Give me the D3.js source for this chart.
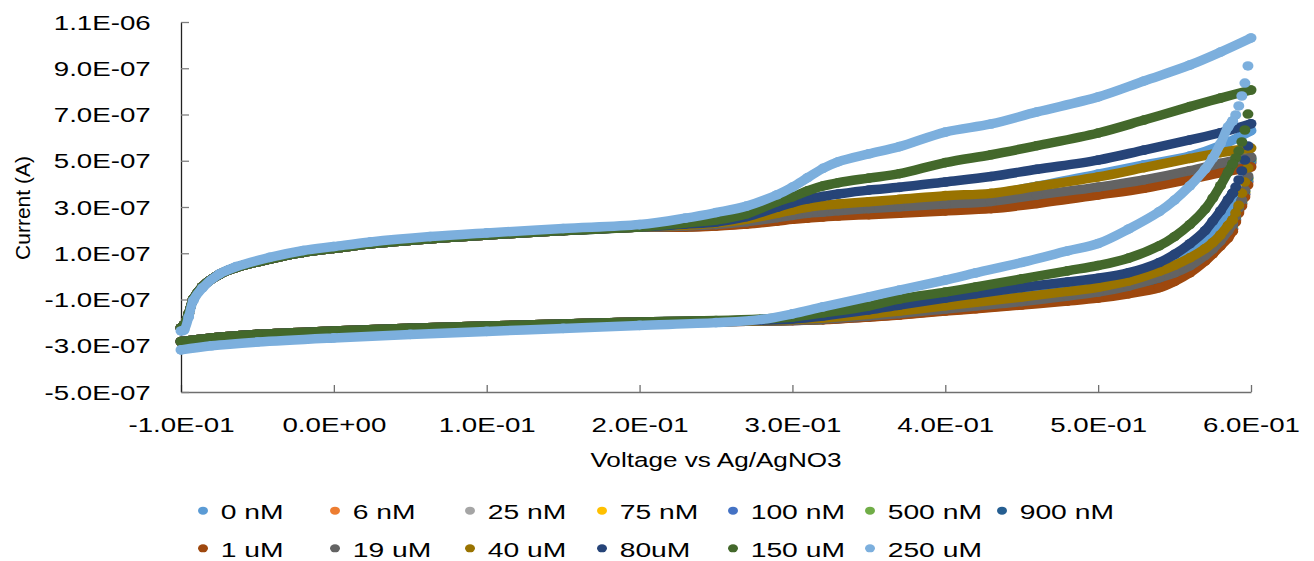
<!DOCTYPE html>
<html><head><meta charset="utf-8">
<script src="https://cdn.jsdelivr.net/npm/d3@7/dist/d3.min.js"></script>
<style>
html,body{margin:0;padding:0;background:#fff;}
svg{display:block;}
text{font-family:"Liberation Sans",Arial,sans-serif;fill:#000;}
</style></head><body>
<svg id="chart" width="1314" height="561"></svg>
<script>
// ---------- DATA (voltage in V, current in units of 1e-7 A) ----------
const seriesNames  = ["0 nM","6 nM","25 nM","75 nM","100 nM","500 nM","900 nM",
                      "1 uM","19 uM","40 uM","80uM","150 uM","250 uM"];
const seriesColors = ["#5B9BD5","#ED7D31","#A5A5A5","#FFC000","#4472C4","#70AD47","#255E91",
                      "#9E480E","#636363","#997300","#264478","#43682B","#7CAFDD"];

const xTickValues = [-0.1,0,0.1,0.2,0.3,0.4,0.5,0.6];
const xTickLabels = ["-1.0E-01","0.0E+00","1.0E-01","2.0E-01","3.0E-01","4.0E-01","5.0E-01","6.0E-01"];
const yTickValues = [-5,-3,-1,1,3,5,7,9,11];
const yTickLabels = ["-5.0E-07","-3.0E-07","-1.0E-07","1.0E-07","3.0E-07","5.0E-07","7.0E-07","9.0E-07","1.1E-06"];

// forward sweep, start (all series except 250 uM nearly identical)
const fwdHeadV    = [-0.1,-0.098,-0.095,-0.092,-0.086,-0.075,-0.064,-0.042,-0.02,0.0,0.024,0.063,0.1,0.15,0.2];
const fwdHeadLow  = [-2.23,-2.10,-1.62,-0.98,-0.44,0.08,0.38,0.75,1.04,1.21,1.41,1.63,1.79,1.98,2.13];
const fwdHead250  = [-2.36,-2.32,-1.76,-1.05,-0.50,0.10,0.42,0.82,1.12,1.29,1.49,1.72,1.88,2.07,2.24];

// forward sweep, end (per series)
const fwdTailV = [0.23,0.25,0.27,0.29,0.3,0.31,0.32,0.33,0.35,0.37,0.4,0.43,0.46,0.5,0.53,0.56,0.58,0.6];
const fwdTail = [
  [2.20,2.28,2.42,2.66,2.78,2.90,2.98,3.04,3.15,3.25,3.42,3.56,3.90,4.42,4.82,5.20,5.65,6.30], // 0 nM
  [2.14,2.19,2.28,2.42,2.50,2.56,2.61,2.66,2.73,2.80,2.90,3.01,3.25,3.62,3.94,4.33,4.62,4.88], // 6 nM
  [2.15,2.20,2.30,2.45,2.54,2.61,2.66,2.71,2.78,2.85,2.96,3.07,3.32,3.68,4.00,4.40,4.70,4.96], // 25 nM
  [2.16,2.21,2.31,2.47,2.56,2.63,2.69,2.74,2.82,2.89,3.00,3.11,3.38,3.73,4.05,4.45,4.76,5.02], // 75 nM
  [2.14,2.20,2.29,2.44,2.52,2.59,2.64,2.69,2.76,2.83,2.94,3.05,3.30,3.66,3.98,4.38,4.68,4.95], // 100 nM
  [2.15,2.21,2.32,2.48,2.57,2.65,2.71,2.76,2.84,2.91,3.03,3.14,3.42,3.76,4.08,4.48,4.80,5.06], // 500 nM
  [2.16,2.22,2.33,2.50,2.59,2.67,2.73,2.79,2.87,2.95,3.07,3.18,3.46,3.80,4.12,4.52,4.84,5.10], // 900 nM
  [2.13,2.18,2.26,2.39,2.47,2.52,2.57,2.61,2.67,2.73,2.83,2.93,3.15,3.52,3.81,4.20,4.48,4.73], // 1 uM
  [2.18,2.24,2.36,2.54,2.64,2.73,2.78,2.84,2.93,3.01,3.13,3.24,3.52,3.86,4.17,4.57,4.89,5.16], // 19 uM
  [2.22,2.31,2.47,2.73,2.87,2.99,3.07,3.13,3.23,3.33,3.49,3.59,3.89,4.30,4.70,5.10,5.35,5.55], // 40 uM
  [2.26,2.35,2.58,2.99,3.19,3.35,3.46,3.56,3.73,3.85,4.08,4.32,4.63,5.03,5.46,5.90,6.21,6.60], // 80uM
  [2.31,2.44,2.70,3.23,3.44,3.70,3.91,4.05,4.25,4.44,4.92,5.26,5.65,6.20,6.76,7.34,7.71,8.06], // 150 uM
  [2.52,2.76,3.04,3.53,3.86,4.27,4.67,4.96,5.30,5.61,6.24,6.59,7.11,7.76,8.45,9.14,9.70,10.31] // 250 uM
];

// reverse sweep, first (sparse) points near the vertex
const revDotV = [0.598,0.596,0.594,0.592,0.590,0.588];
const revDots = [
  [5.30,4.65,4.15,3.72,3.38,3.10], // 0 nM
  [4.05,3.52,3.12,2.80,2.42,2.04], // 6 nM
  [4.12,3.58,3.17,2.85,2.48,2.10], // 25 nM
  [4.20,3.63,3.22,2.89,2.53,2.16], // 75 nM
  [4.10,3.55,3.15,2.83,2.45,2.07], // 100 nM
  [4.24,3.66,3.25,2.91,2.56,2.19], // 500 nM
  [4.28,3.69,3.27,2.93,2.58,2.22], // 900 nM
  [3.95,3.43,3.04,2.74,2.35,1.96], // 1 uM
  [4.34,3.73,3.30,2.96,2.61,2.26], // 19 uM
  [4.69,4.08,3.60,3.07,2.75,2.44], // 40 uM
  [5.64,5.03,4.56,4.17,3.86,3.60], // 80uM
  [7.02,6.33,5.81,5.42,5.12,4.86], // 150 uM
  [9.10,8.36,7.80,7.37,6.98,6.72]  // 250 uM
];

// reverse sweep, body (per series)
const revBodyV = [0.585,0.58,0.575,0.57,0.56,0.55,0.54,0.52,0.5,0.48,0.45,0.42,0.4,0.37,0.35,0.32,0.3,0.28,0.25];
const revBody = [
  [2.85,2.40,2.00,1.65,1.12,0.70,0.32,-0.12,-0.40,-0.58,-0.84,-1.08,-1.23,-1.47,-1.62,-1.79,-1.86,-1.90,-1.94], // 0 nM
  [1.72,1.36,1.02,0.71,0.21,-0.15,-0.41,-0.68,-0.89,-1.03,-1.21,-1.38,-1.48,-1.66,-1.75,-1.87,-1.91,-1.93,-1.96], // 6 nM
  [1.78,1.41,1.06,0.76,0.28,-0.07,-0.32,-0.61,-0.83,-0.98,-1.18,-1.35,-1.46,-1.65,-1.74,-1.86,-1.91,-1.93,-1.96], // 25 nM
  [1.84,1.45,1.10,0.81,0.34,0.01,-0.22,-0.54,-0.78,-0.94,-1.15,-1.33,-1.45,-1.64,-1.73,-1.86,-1.90,-1.93,-1.95], // 75 nM
  [1.75,1.39,1.04,0.73,0.24,-0.11,-0.37,-0.65,-0.86,-1.01,-1.20,-1.37,-1.47,-1.65,-1.75,-1.87,-1.91,-1.93,-1.96], // 100 nM
  [1.88,1.48,1.13,0.84,0.38,0.06,-0.16,-0.50,-0.75,-0.91,-1.13,-1.31,-1.44,-1.63,-1.72,-1.85,-1.90,-1.93,-1.95], // 500 nM
  [1.91,1.50,1.15,0.87,0.41,0.10,-0.11,-0.46,-0.72,-0.88,-1.11,-1.30,-1.43,-1.62,-1.72,-1.85,-1.90,-1.93,-1.95], // 900 nM
  [1.66,1.31,0.97,0.66,0.15,-0.22,-0.49,-0.75,-0.94,-1.07,-1.24,-1.40,-1.50,-1.67,-1.76,-1.87,-1.91,-1.93,-1.96], // 1 uM
  [1.96,1.53,1.18,0.90,0.45,0.15,-0.06,-0.42,-0.68,-0.85,-1.09,-1.28,-1.41,-1.61,-1.71,-1.85,-1.90,-1.93,-1.95], // 19 uM
  [2.20,1.79,1.46,1.20,0.80,0.48,0.22,-0.20,-0.47,-0.65,-0.89,-1.12,-1.27,-1.50,-1.64,-1.80,-1.87,-1.91,-1.94], // 40 uM
  [3.32,2.83,2.39,1.98,1.41,0.95,0.60,0.16,-0.08,-0.24,-0.48,-0.75,-0.94,-1.24,-1.45,-1.71,-1.84,-1.89,-1.93], // 80uM
  [4.51,3.92,3.38,2.91,2.24,1.72,1.32,0.79,0.47,0.24,-0.11,-0.46,-0.68,-0.98,-1.28,-1.58,-1.76,-1.84,-1.91], // 150 uM
  [6.46,5.73,5.12,4.64,3.91,3.30,2.80,2.05,1.42,1.10,0.60,0.15,-0.16,-0.59,-0.89,-1.32,-1.62,-1.86,-2.00]  // 250 uM
];

// reverse sweep, end (all series except 250 uM nearly identical)
const revTailV   = [0.2,0.15,0.1,0.05,0.0,-0.05,-0.08,-0.1];
const revTailLow = [-1.97,-2.06,-2.15,-2.24,-2.36,-2.51,-2.66,-2.82];
const revTail250 = [-2.12,-2.25,-2.38,-2.51,-2.66,-2.84,-3.00,-3.18];

// ---------- CHART ----------
const svg = d3.select("#chart");
const x = d3.scaleLinear().domain([-0.1,0.6]).range([181,1251]);
const y = d3.scaleLinear().domain([-5,11]).range([392,22]);
const SX_TICK = 1.42, SX_LEG = 1.45, SX_XT = 1.34;

// axes
const gx = svg.append("g").attr("transform","translate(0,392)")
  .call(d3.axisBottom(x).tickValues(xTickValues).tickFormat((d,i)=>xTickLabels[i])
        .tickSizeInner(-7).tickSizeOuter(0));
gx.select(".domain").attr("stroke","#6f6f6f").attr("stroke-width",1.3);
gx.selectAll(".tick line").attr("stroke","#6f6f6f").attr("stroke-width",1.3);
gx.selectAll(".tick text").attr("y",40.3).attr("dy",null)
  .attr("transform",`scale(${SX_TICK},1)`)
  .style("font-family",'"Liberation Sans",Arial,sans-serif').style("font-size","19.5px").attr("fill","#000");

const gy = svg.append("g").attr("transform","translate(181,0)")
  .call(d3.axisLeft(y).tickValues(yTickValues).tickFormat((d,i)=>yTickLabels[i])
        .tickSizeInner(-8).tickSizeOuter(0).tickPadding(30.3));
gy.select(".domain").attr("stroke","#222").attr("stroke-width",1.3);
gy.selectAll(".tick line").attr("stroke","#7f7f7f").attr("stroke-width",1.3);
gy.selectAll(".tick text").attr("x",-30.3/SX_TICK).attr("dy","0.36em")
  .attr("transform",`scale(${SX_TICK},1)`)
  .style("font-family",'"Liberation Sans",Arial,sans-serif').style("font-size","19.5px").attr("fill","#000");

// axis titles
svg.append("text").attr("transform","translate(22,208) rotate(-90)")
  .attr("text-anchor","middle").attr("dy","0.36em").style("font-size","21px").text("Current (A)");
svg.append("text").attr("transform",`translate(716,467) scale(${SX_XT},1)`)
  .attr("text-anchor","middle").style("font-size","19.5px").text("Voltage vs Ag/AgNO3");

// series
const line = d3.line().x(d=>x(d[0])).y(d=>y(d[1])).curve(d3.curveCatmullRom.alpha(0.5));
const plot = svg.append("g");
seriesNames.forEach((name,i)=>{
  const head = i===12 ? fwdHead250 : fwdHeadLow;
  const tail = i===12 ? revTail250 : revTailLow;
  const fwd = fwdHeadV.map((v,k)=>[v,head[k]]).concat(fwdTailV.map((v,k)=>[v,fwdTail[i][k]]));
  const dots = revDotV.map((v,k)=>[v,revDots[i][k]]);
  const rev = [dots[dots.length-1]].concat(revBodyV.map((v,k)=>[v,revBody[i][k]]),
                                           revTailV.map((v,k)=>[v,tail[k]]));
  const g = plot.append("g").attr("fill",seriesColors[i]).attr("stroke",seriesColors[i]);
  [fwd,rev].forEach(pts=>{
    g.append("path").datum(pts).attr("d",line).attr("fill","none")
      .attr("stroke-width",9.5).attr("stroke-linecap","round").attr("stroke-linejoin","round");
  });
  g.selectAll("ellipse").data(fwd.concat(dots,rev)).join("ellipse")
    .attr("cx",d=>x(d[0])).attr("cy",d=>y(d[1])).attr("rx",5.5).attr("ry",4.8).attr("stroke","none");
});

// legend
const legColX = [203,335,470,602,733,870,1002];
const legRowY = [510.7,548.3];
const leg = svg.append("g");
seriesNames.forEach((name,i)=>{
  const row = i<7 ? 0 : 1, col = i<7 ? i : i-7;
  const cx = legColX[col], cy = legRowY[row];
  leg.append("ellipse").attr("cx",cx).attr("cy",cy).attr("rx",5).attr("ry",4).attr("fill",seriesColors[i]);
  leg.append("text").attr("transform",`translate(${cx+17.7},${cy+8.2}) scale(${SX_LEG},1)`)
    .style("font-size","19.5px").text(name);
});
</script>
</body></html>
